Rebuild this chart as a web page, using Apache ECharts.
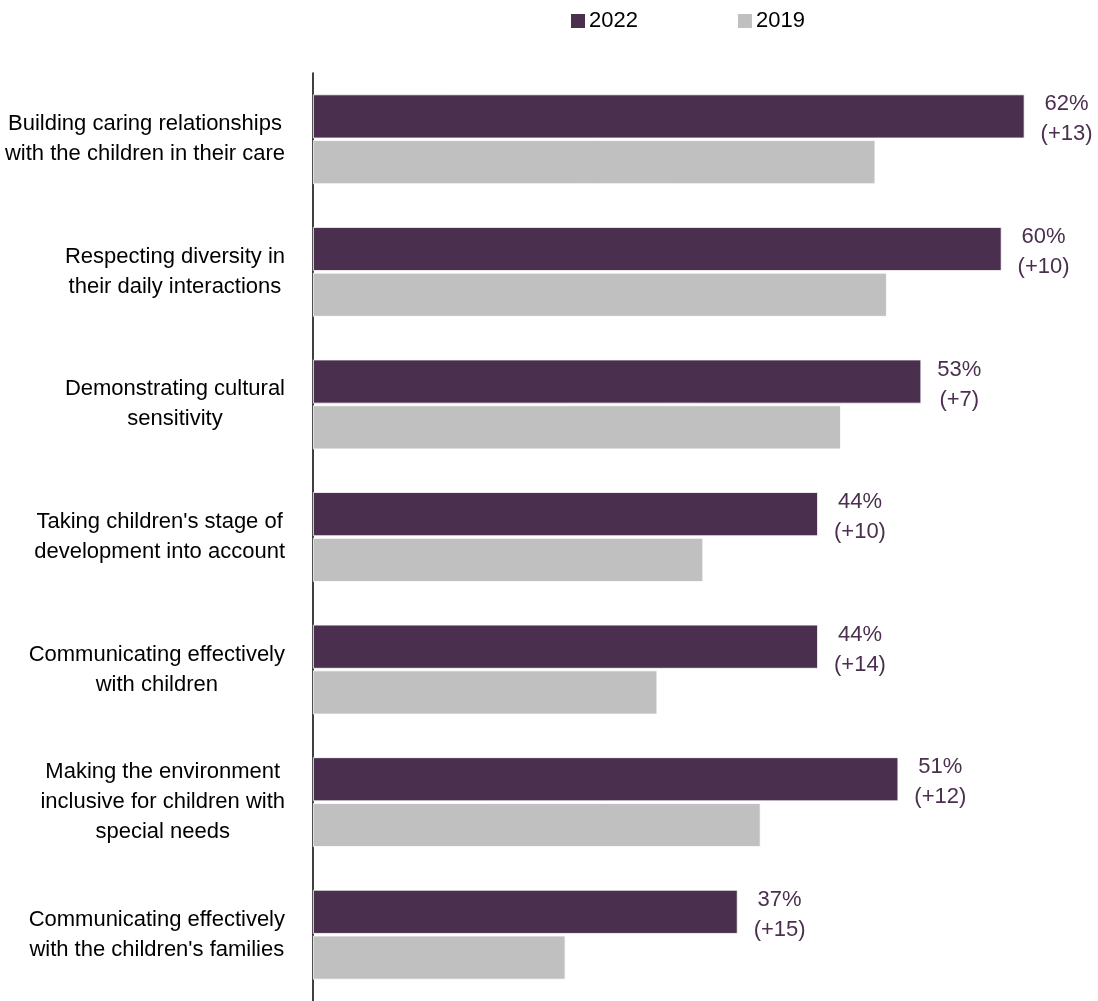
<!DOCTYPE html>
<html>
<head>
<meta charset="utf-8">
<script src="https://cdn.jsdelivr.net/npm/echarts@6/dist/echarts.min.js"></script>
<style>
html,body{margin:0;padding:0;background:#fff;}
#chart{width:1098px;height:1001px;}
</style>
</head>
<body>
<div id="chart"></div>
<script>
const categories = [
  "Building caring relationships\nwith the children in their care",
  "Respecting diversity in\ntheir daily interactions",
  "Demonstrating cultural\nsensitivity",
  "Taking children's stage of\ndevelopment into account",
  "Communicating effectively\nwith children",
  "Making the environment\ninclusive for children with\nspecial needs",
  "Communicating effectively\nwith the children's families"
];
const values2022 = [62, 60, 53, 44, 44, 51, 37];
const values2019 = [49, 50, 46, 34, 30, 39, 22];
const changes = ["+13", "+10", "+7", "+10", "+14", "+12", "+15"];

const FONT = "Liberation Sans, Arial, sans-serif";
const PURPLE = "#4a2f4e";
const GRAY = "#c0c0c0";

const chart = echarts.init(document.getElementById('chart'), null, {renderer: 'canvas'});
chart.setOption({
  animation: false,
  backgroundColor: '#fff',
  textStyle: {fontFamily: FONT},
  legend: {
    top: 5,
    left: 564,
    itemWidth: 16,
    itemHeight: 16,
    itemGap: 98,
    icon: 'rect',
    textStyle: {fontFamily: FONT, fontSize: 22, color: '#000', padding: [0,0,0,-2]},
    data: ['2022', '2019']
  },
  grid: {left: 313, top: 73, right: 0, height: 930, containLabel: false},
  xAxis: {
    type: 'value', min: 0, max: 68.4, show: false,
    splitLine: {show: false}
  },
  yAxis: {
    type: 'category',
    inverse: true,
    data: categories,
    axisLine: {show: true, lineStyle: {color: '#000', width: 1.5}},
    axisTick: {show: false},
    axisLabel: {
      margin: 28,
      formatter: function (v) {
        return v.split('\n').map(l => '{c|' + l + '}').join('\n');
      },
      rich: {
        c: {fontFamily: FONT, fontSize: 22, color: '#000', lineHeight: 30, align: 'center'}
      }
    }
  },
  series: [
    {
      name: '2022', type: 'bar', data: values2022,
      barWidth: 44, barGap: '4%',
      itemStyle: {color: PURPLE, borderColor: '#fff', borderWidth: 0.8},
      label: {
        show: true, position: 'right', distance: 16, offset: [0, 3],
        formatter: function (p) {
          return '{v|' + p.value + '%}\n{v|(' + changes[p.dataIndex] + ')}';
        },
        rich: {v: {fontFamily: FONT, fontSize: 22, color: PURPLE, lineHeight: 30, align: 'center'}}
      }
    },
    {
      name: '2019', type: 'bar', data: values2019,
      barWidth: 44,
      itemStyle: {color: GRAY, borderColor: '#fff', borderWidth: 0.8}
    }
  ]
});
</script>
</body>
</html>
